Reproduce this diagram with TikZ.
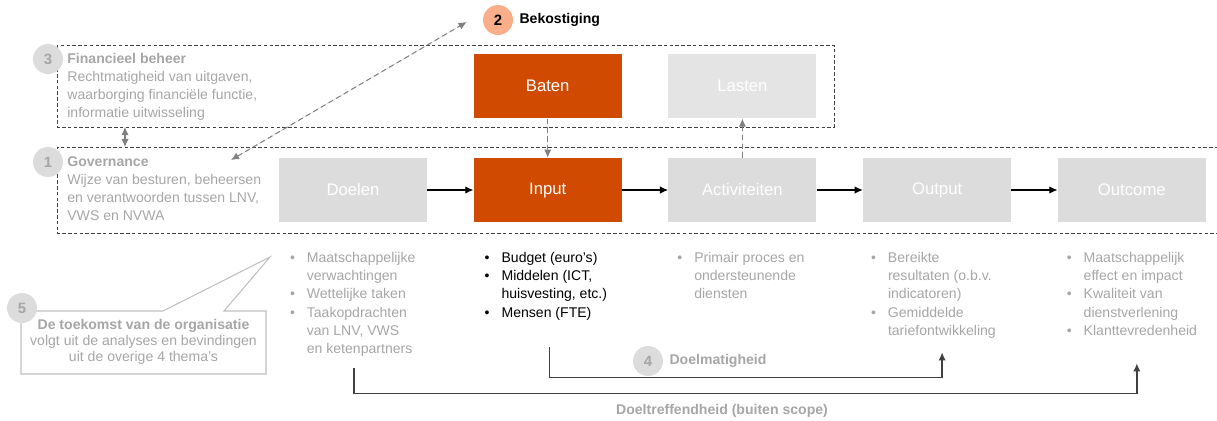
\documentclass[tikz,border=0pt]{standalone}
\usepackage{fontspec}
\setmainfont{Liberation Sans}
\usepackage{xcolor}
\usepackage{tikz}
\usetikzlibrary{%
   arrows.meta,%
   calc,%
   positioning}
\definecolor{pwcoranje}{HTML}{D04A02}
\definecolor{perzik}{HTML}{FBAE8A}
\definecolor{blokgrijs}{HTML}{DCDCDC}
\definecolor{lastengrijs}{HTML}{E4E4E4}
\definecolor{tekstgrijs}{HTML}{A6A6A6}
\definecolor{lijngrijs}{HTML}{808080}
\definecolor{ballongrijs}{HTML}{C0C0C0}
\definecolor{haakgrijs}{HTML}{404040}
\newcommand{\bol}{\textbullet}

\begin{document}
\begin{tikzpicture}
[x=0.2mm, y=-0.2mm,
 >={Latex[length=4.6pt,width=4.2pt]},
 node distance=9.2mm,
 font=\fontsize{8}{10.4}\selectfont,
 box/.style={rectangle, fill=blokgrijs, text=white, minimum width=29.6mm, minimum height=12.8mm, font=\fontsize{9.5}{11}\selectfont},
 obox/.style={box, fill=pwcoranje},
 nummer/.style={circle, fill=blokgrijs, text=tekstgrijs, minimum size=6mm, inner sep=0pt, font=\fontsize{8.5}{10}\selectfont\bfseries},
 kader/.style={draw=haakgrijs, dash pattern=on 2pt off 1.3pt, line width=0.5pt},
 lijst/.style={anchor=base west, inner sep=0pt, text=tekstgrijs},
 pfeil/.style={->, line width=0.6pt},
 grijspijl/.style={->, draw=lijngrijs, fill=lijngrijs, dash pattern=on 3pt off 2pt, line width=0.6pt},
 haak/.style={->, draw=haakgrijs, line width=0.8pt}]
\useasboundingbox (0,0) rectangle (1217,420);
% dashed frames
\draw[kader] (57,45) rectangle (834,127);
\draw[kader] (1230,147) -- (57,147) -- (57,233) -- (1230,233);
% chain of blocks
\node (doelen) [box] at (353,190) {Doelen};
\node (input) [obox, right=of doelen] {Input};
\node (activ) [box, right=of input] {Activiteiten};
\node (output) [box, right=of activ] {Output};
\node (outcome) [box, right=of output] {Outcome};
\node (baten) [obox, above=7.8mm of input] {Baten};
\node (lasten) [box, fill=lastengrijs, above=7.8mm of activ] {Lasten};
\draw[pfeil] (doelen) -- (input);
\draw[pfeil] (input) -- (activ);
\draw[pfeil] (activ) -- (output);
\draw[pfeil] (output) -- (outcome);
\draw[grijspijl] (baten) -- (input);
\draw[grijspijl] (activ) -- (lasten);
% themes
\node (nr3) [nummer] at (48,59) {3};
\node (finbeheer) [lijst] at (67,63) {\begin{tabular}[t]{@{}l@{}}\textbf{Financieel beheer}\\ Rechtmatigheid van uitgaven,\\ waarborging financiële functie,\\ informatie uitwisseling\end{tabular}};
\node (nr1) [nummer] at (48,162) {1};
\node (governance) [lijst] at (67,166) {\begin{tabular}[t]{@{}l@{}}\textbf{Governance}\\ Wijze van besturen, beheersen\\ en verantwoorden tussen LNV,\\ VWS en NVWA\end{tabular}};
\node (nr2) [nummer, fill=perzik, text=black] at (498,20) {2};
\node (bekost) [right=0mm of nr2, font=\fontsize{8}{10}\selectfont\bfseries] {Bekostiging};
\coordinate (k3) at (125,127);
\coordinate (k1) at (125,147);
\coordinate (gov) at (231,160);
\coordinate (bek) at ($(nr2.west)+(-16,2)$);
\draw[grijspijl, <->] (k3) -- (k1);
\draw[grijspijl, <->] (gov) -- (bek);
% lists below the blocks
\node (doelenlijst) [lijst] at ($(doelen.south west)+(11,40)$) {\begin{tabular}[t]{@{}p{9.6pt}@{}l@{}}\bol & Maatschappelijke\\ & verwachtingen\\ \bol & Wettelijke taken\\ \bol & Taakopdrachten\\ & van LNV, VWS\\ & en ketenpartners\end{tabular}};
\node (inputlijst) [lijst, text=black] at ($(input.south west)+(11,40)$) {\begin{tabular}[t]{@{}p{9.6pt}@{}l@{}}\bol & Budget (euro's)\\ \bol & Middelen (ICT,\\ & huisvesting, etc.)\\ \bol & Mensen (FTE)\end{tabular}};
\node (activlijst) [lijst] at ($(activ.south west)+(9,40)$) {\begin{tabular}[t]{@{}p{9.6pt}@{}l@{}}\bol & Primair proces en\\ & ondersteunende\\ & diensten\end{tabular}};
\node (outputlijst) [lijst] at ($(output.south west)+(8,40)$) {\begin{tabular}[t]{@{}p{9.6pt}@{}l@{}}\bol & Bereikte\\ & resultaten (o.b.v.\\ & indicatoren)\\ \bol & Gemiddelde\\ & tariefontwikkeling\end{tabular}};
\node (outcomelijst) [lijst] at ($(outcome.south west)+(9,40)$) {\begin{tabular}[t]{@{}p{9.6pt}@{}l@{}}\bol & Maatschappelijk\\ & effect en impact\\ \bol & Kwaliteit van\\ & dienstverlening\\ \bol & Klanttevredenheid\end{tabular}};
% efficiency and effectiveness
\coordinate (dm0) at ($(input.south)+(2,125)$);
\coordinate (dm1) at ($(output.south)+(5,130)$);
\coordinate (dt0) at ($(doelen.south)+(1,146)$);
\coordinate (dt1) at ($(outcome.south)+(5,141)$);
\draw[haak] (dm0) -- ++(0,30) -| (dm1);
\draw[haak] (dt0) -- ++(0,25) -| (dt1);
\node (nr4) [nummer] at (648,361) {4};
\node (doelmatig) [right=0mm of nr4, text=tekstgrijs, font=\fontsize{8}{10}\selectfont\bfseries] {Doelmatigheid};
\node (doeltreffend) [text=tekstgrijs, font=\fontsize{8}{10}\selectfont\bfseries] at (722,411) {Doeltreffendheid (buiten scope)};
% callout for theme 5
\coordinate (punt) at (270,257);
\draw[draw=ballongrijs, fill=white, line width=0.6pt] (21,311) -- (163,311) -- (punt) -- (224,311) -- (266,311) -- (266,374) -- (21,374) -- cycle;
\node (toekomst) [text=tekstgrijs, align=center, font=\fontsize{8}{9.2}\selectfont] at (143.5,342) {\textbf{De toekomst van de organisatie}\\ volgt uit de analyses en bevindingen\\ uit de overige 4 thema's};
\node (nr5) [nummer] at (22,308) {5};
\end{tikzpicture}
\end{document}
